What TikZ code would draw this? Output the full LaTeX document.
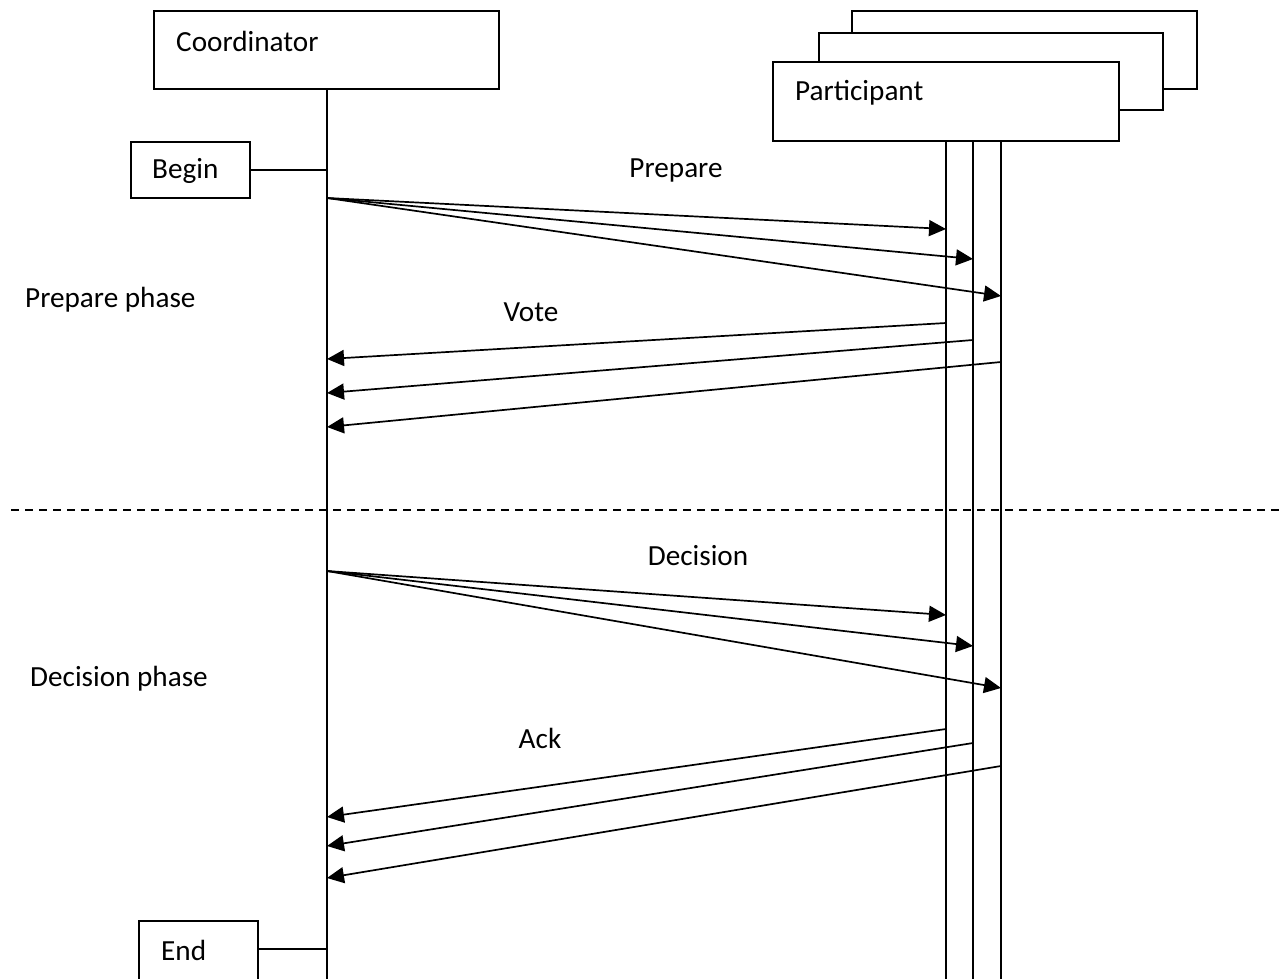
\documentclass[tikz,border=0pt]{standalone}
\usepackage{fontspec}
\setmainfont{Carlito}
\usetikzlibrary{arrows.meta}
\tikzset{
  box/.style={draw=black, line width=1.7pt, fill=white, rectangle, anchor=north west, inner sep=0pt, outer sep=0pt},
  life/.style={draw=black, line width=1.7pt},
  msg/.style={draw=black, line width=1.7pt, -{Triangle[length=17pt,width=16pt]}},
  lbl/.style={font=\fontsize{29.2}{33}\selectfont, inner sep=0pt, anchor=west},
  clbl/.style={font=\fontsize{29.2}{33}\selectfont, inner sep=0pt},
}
\begin{document}
\begin{tikzpicture}[x=1pt, y=-1pt]
\useasboundingbox (0,0) rectangle (1283,979);

% coordinator column
\node[box, minimum width=345pt, minimum height=78pt] (coord) at (154,11) {};
\node[lbl] (coordtxt) at (176,41) {Coordinator};
\coordinate (ctop) at (327,89);
\coordinate (cbot) at (327,979);
\draw[life] (ctop) -- (cbot);

\node[box, minimum width=119pt, minimum height=56pt] (begin) at (131,142) {};
\node[lbl] (begintxt) at (152,171) {Begin};
\coordinate (cbegin) at (begin.east -| ctop);
\draw[life] (begin.east) -- (cbegin);

% the End box runs past the lower edge of the page
\node[box, minimum width=119pt, minimum height=70pt] (end) at (139,921) {};
\node[lbl] (endtxt) at (161,950) {End};
\coordinate (cend) at (327,949);
\draw[life] (end.east |- cend) -- (cend);

% stacked participant boxes
\node[box, minimum width=345pt, minimum height=78pt] (part3) at (852,11) {};
\node[box, minimum width=344pt, minimum height=77pt] (part2) at (819,33) {};
\node[box, minimum width=346pt, minimum height=79pt] (part1) at (773,62) {};
\node[lbl] (parttxt) at (795,93) {Participant};

% participant lifelines
\foreach \n/\x in {1/946, 2/973, 3/1001} {
  \coordinate (ptop\n) at (\x,141);
  \coordinate (pbot\n) at (\x,979);
  \draw[life] (ptop\n) -- (pbot\n);
}

% phase separator
\coordinate (sepL) at (11,510);
\coordinate (sepR) at (1283,510);
\draw[black, line width=1.5pt, dash pattern=on 8pt off 6pt] (sepL) -- (sepR);

% phase labels
\node[lbl] (prepphase) at (25,300) {Prepare phase};
\node[lbl] (decphase) at (30,679) {Decision phase};

% prepare messages
\coordinate (cprep) at (327,198);
\coordinate (pp1) at (946,229);
\coordinate (pp2) at (973,259);
\coordinate (pp3) at (1001,296);
\draw[msg] (cprep) -- (pp1);
\draw[msg] (cprep) -- (pp2);
\draw[msg] (cprep) -- (pp3);
\node[clbl] (preplbl) at (676,170) {Prepare};

% votes
\coordinate (pv1) at (946,323);
\coordinate (pv2) at (973,340);
\coordinate (pv3) at (1001,362);
\coordinate (cv1) at (327,359);
\coordinate (cv2) at (327,393);
\coordinate (cv3) at (327,427);
\draw[msg] (pv1) -- (cv1);
\draw[msg] (pv2) -- (cv2);
\draw[msg] (pv3) -- (cv3);
\node[clbl] (votelbl) at (531,312) {Vote};

% decision messages
\coordinate (cdec) at (327,571);
\coordinate (pd1) at (946,615);
\coordinate (pd2) at (973,646);
\coordinate (pd3) at (1001,688);
\draw[msg] (cdec) -- (pd1);
\draw[msg] (cdec) -- (pd2);
\draw[msg] (cdec) -- (pd3);
\node[clbl] (declbl) at (698,556) {Decision};

% acknowledgements
\coordinate (pa1) at (946,729);
\coordinate (pa2) at (973,743);
\coordinate (pa3) at (1001,766);
\coordinate (ca1) at (327,817);
\coordinate (ca2) at (327,846);
\coordinate (ca3) at (327,878);
\draw[msg] (pa1) -- (ca1);
\draw[msg] (pa2) -- (ca2);
\draw[msg] (pa3) -- (ca3);
\node[clbl] (acklbl) at (540,738) {Ack};
\end{tikzpicture}
\end{document}
